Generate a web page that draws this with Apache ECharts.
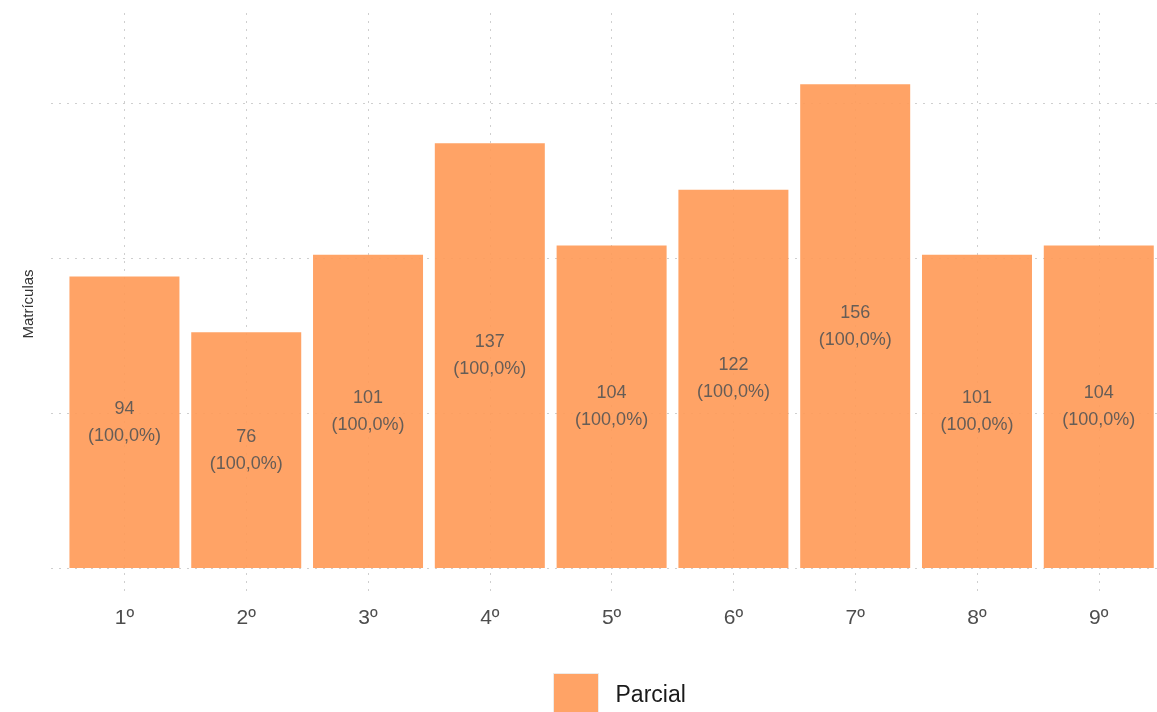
<!DOCTYPE html>
<html>
<head>
<meta charset="utf-8">
<script src="https://cdn.jsdelivr.net/npm/echarts@6/dist/echarts.min.js"></script>
<style>
  html, body { margin: 0; padding: 0; background: #ffffff; }
  #chart { width: 1157px; height: 712px; }
</style>
</head>
<body>
<div id="chart"></div>
<script>
const categories = ['1º', '2º', '3º', '4º', '5º', '6º', '7º', '8º', '9º']
const matriculas = [94, 76, 101, 137, 104, 122, 156, 101, 104]
const percentuais = [100, 100, 100, 100, 100, 100, 100, 100, 100]
const yTicks = [0, 50, 100, 150]

const chart = echarts.init(document.getElementById('chart'))

const gridLine = { color: '#cfcfcf', width: 1, type: [2, 6] }

const option = {
  animation: false,
  textStyle: { fontFamily: 'Liberation Sans, Arial, sans-serif' },
  grid: { left: 51, top: 13, right: 0, height: 582 },
  legend: {
    data: ['Parcial'],
    left: 553,
    top: 673,
    padding: 0,
    icon: 'rect',
    itemWidth: 45,
    itemHeight: 45,
    itemStyle: { borderColor: '#ececec', borderWidth: 1 },
    textStyle: { fontSize: 23, color: '#1a1a1a', padding: [0, 0, 0, 12] }
  },
  xAxis: {
    type: 'value',
    min: 0.397,
    max: 9.478,
    axisLine: { show: false },
    axisTick: { show: false, customValues: categories.map((c, i) => i + 1) },
    axisLabel: {
      customValues: categories.map((c, i) => i + 1),
      formatter: v => categories[Math.round(v) - 1] || '',
      fontSize: 21,
      color: '#4d4d4d',
      margin: 13
    },
    splitLine: { show: true, lineStyle: gridLine }
  },
  yAxis: {
    type: 'value',
    min: -8.7,
    max: 179,
    name: 'Matrículas',
    nameLocation: 'middle',
    nameGap: 15,
    nameTextStyle: { fontSize: 15, color: '#333333' },
    axisLine: { show: false },
    axisTick: { show: false, customValues: yTicks },
    axisLabel: { show: false, customValues: yTicks },
    splitLine: { show: true, lineStyle: gridLine }
  },
  series: [
    {
      name: 'Parcial',
      type: 'bar',
      barWidth: 110,
      data: matriculas.map((v, i) => [i + 1, v]),
      itemStyle: { color: '#ff9955', opacity: 0.9 },
      label: {
        show: true,
        position: 'inside',
        fontSize: 18,
        lineHeight: 27,
        color: '#555555',
        formatter: p => p.value[1] + '\n(' + percentuais[p.dataIndex].toFixed(1).replace('.', ',') + '%)'
      }
    }
  ]
}

chart.setOption(option)
</script>
</body>
</html>
